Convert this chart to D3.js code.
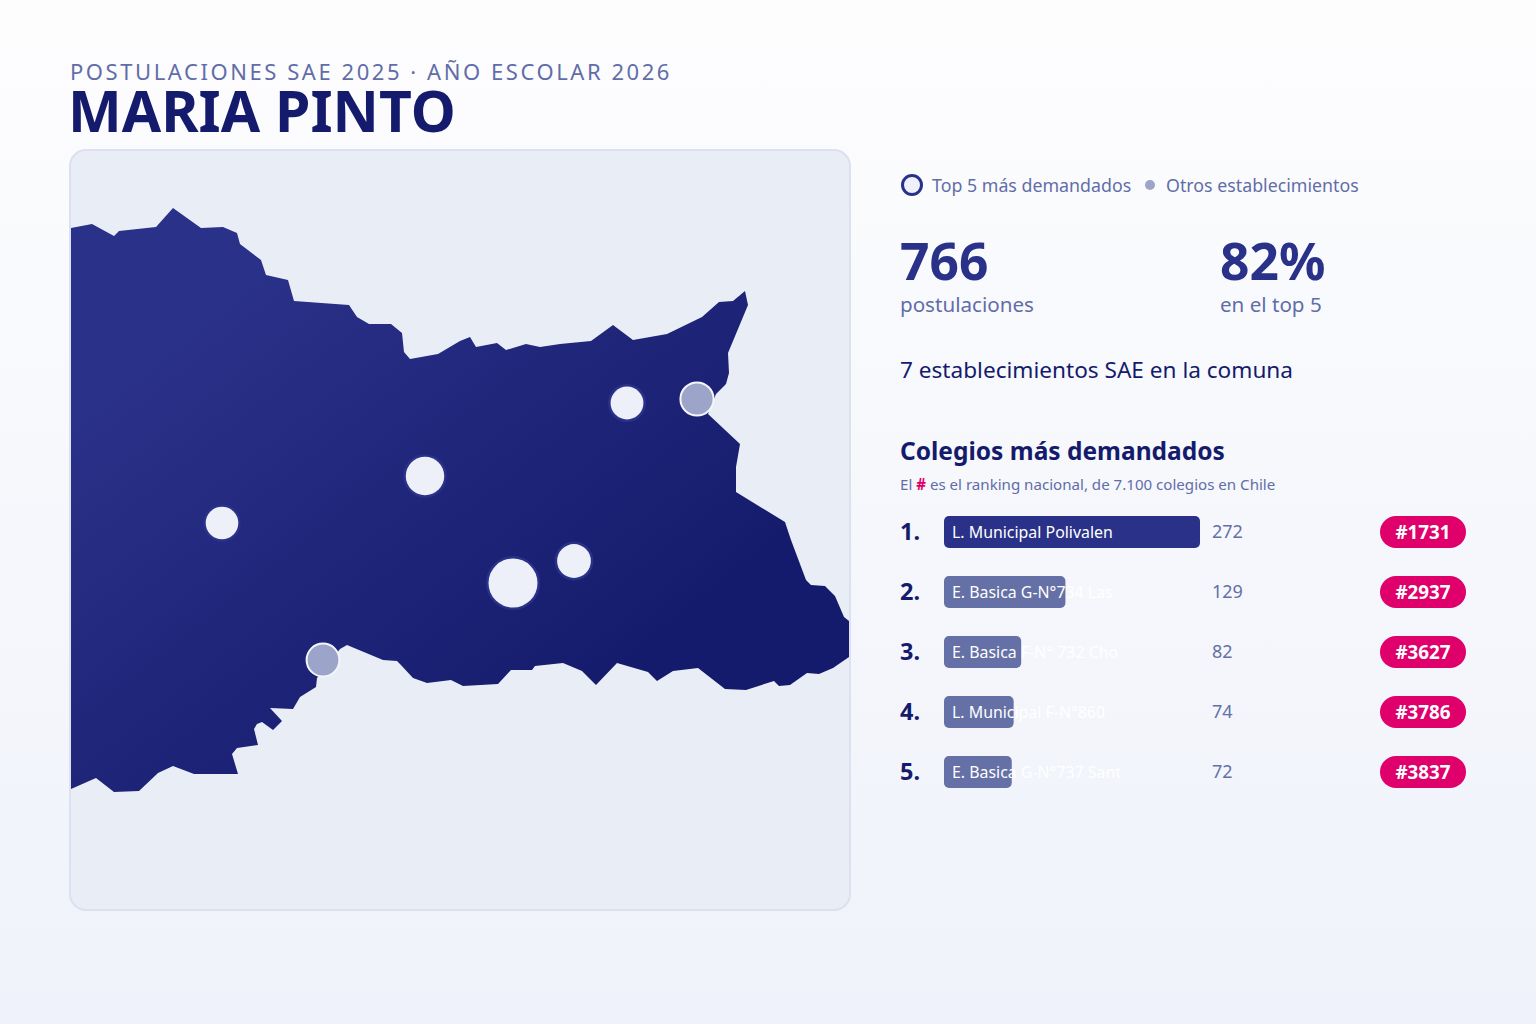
<!DOCTYPE html>
<html>
<head>
<meta charset="utf-8">
<script src="https://cdn.jsdelivr.net/npm/d3@7"></script>
<style>
	html, body { margin: 0; padding: 0; background: #f5f7fc; }
	svg { display: block; font-family: "Noto Sans", sans-serif; }
</style>
</head>
<body>
<div id="chart"></div>
<script>
// comuna outline, in map units
const outline = [
	[1,78],[22,74],[44,86],[49,81],[86,77],[103,58],[131,78],[153,77],[167,83],[170,94],
	[191,110],[196,125],[218,130],[224,151],[279,155],[287,167],[299,174],[321,174],[332,183],[334,202],
	[340,209],[368,204],[390,191],[400,187],[406,197],[427,193],[436,200],[456,194],[470,197],[490,194],
	[521,191],[543,175],[563,190],[597,184],[632,167],[649,152],[663,151],[675,141],[678,155],[658,203],
	[659,223],[656,234],[646,244],[638,264],[670,294],[666,317],[666,342],[715,372],[721,390],[736,430],
	[741,435],[755,436],[765,446],[774,467],[779,471],[779,507],[763,518],[749,524],[737,523],[720,535],
	[709,536],[704,531],[676,540],[655,539],[628,518],[603,521],[587,531],[578,522],[547,513],[526,535],
	[512,521],[493,513],[465,516],[462,520],[441,520],[428,534],[393,536],[381,530],[357,533],[343,528],
	[330,514],[327,511],[313,510],[277,495],[270,499],[247,528],[246,537],[230,547],[223,559],[200,558],
	[212,571],[203,580],[192,572],[187,574],[184,579],[188,595],[167,598],[162,604],[168,624],[124,624],
	[103,616],[88,623],[69,641],[44,642],[26,628],[1,639]
];

// ranking of the top 5
const ranks = [1, 2, 3, 4, 5];
const schools = [
	"L. Municipal Polivalen",
	"E. Basica G-N°734 Las",
	"E. Basica F-N° 732 Cho",
	"L. Municipal F-N°860",
	"E. Basica G-N°737 Sant"
];
const postulaciones = [272, 129, 82, 74, 72];
const nationalRank = ["#1731", "#2937", "#3627", "#3786", "#3837"];
const topX = [443, 355, 504, 557, 152];
const topY = [433, 326, 411, 253, 373];

// the two other schools
const otherX = [627, 253];
const otherY = [249, 510];
const otherValues = [70, 67];

const W = 1536, H = 1024;
const panel = {x: 70, y: 150, w: 780, h: 760};

const svg = d3.select("#chart").append("svg")
	.attr("width", W)
	.attr("height", H);

const defs = svg.append("defs");

const bg = defs.append("linearGradient").attr("id", "bg")
	.attr("x1", 0).attr("y1", 0).attr("x2", 0).attr("y2", 1);
bg.append("stop").attr("offset", "0%").attr("stop-color", "#fdfdfe");
bg.append("stop").attr("offset", "100%").attr("stop-color", "#eff2fa");

const mapFill = defs.append("linearGradient").attr("id", "mapFill")
	.attr("x1", "5%").attr("y1", "5%").attr("x2", "90%").attr("y2", "85%");
mapFill.append("stop").attr("offset", "15%").attr("stop-color", "#2a3188");
mapFill.append("stop").attr("offset", "85%").attr("stop-color", "#151b6c");

defs.append("clipPath").attr("id", "panelClip")
	.append("rect")
	.attr("x", panel.x).attr("y", panel.y)
	.attr("width", panel.w).attr("height", panel.h)
	.attr("rx", 16);

svg.append("rect")
	.attr("width", W).attr("height", H)
	.attr("fill", "url(#bg)");

//------------------------------------------------------------------------------
// header
svg.append("text")
	.attr("x", 70).attr("y", 80)
	.attr("font-size", 22)
	.attr("letter-spacing", 2.56)
	.attr("fill", "#616da8")
	.text("POSTULACIONES SAE 2025 · AÑO ESCOLAR 2026");

svg.append("text")
	.attr("x", 68).attr("y", 132)
	.attr("font-size", 57)
	.attr("font-weight", 700)
	.attr("fill", "#151b6c")
	.text("MARIA PINTO");

//------------------------------------------------------------------------------
// map
const x = d3.scaleLinear().domain([0, panel.w]).range([panel.x, panel.x + panel.w]);
const y = d3.scaleLinear().domain([0, panel.h]).range([panel.y, panel.y + panel.h]);
const r = d3.scaleSqrt().domain([67, 272]).range([16, 24.5]);

svg.append("rect")
	.attr("x", panel.x).attr("y", panel.y)
	.attr("width", panel.w).attr("height", panel.h)
	.attr("rx", 16)
	.attr("fill", "#e9edf6");

const mapLayer = svg.append("g").attr("clip-path", "url(#panelClip)");

const line = d3.line()
	.x(function(d) { return x(d[0]); })
	.y(function(d) { return y(d[1]); })
	.curve(d3.curveLinearClosed);

mapLayer.append("path")
	.datum(outline)
	.attr("d", line)
	.attr("fill", "url(#mapFill)");

svg.append("rect")
	.attr("x", panel.x).attr("y", panel.y)
	.attr("width", panel.w).attr("height", panel.h)
	.attr("rx", 16)
	.attr("fill", "none")
	.attr("stroke", "#dce0ef")
	.attr("stroke-width", 2);

// others first, top 5 above them
mapLayer.selectAll(".other")
	.data(otherValues)
	.enter()
	.append("circle")
	.attr("class", "other")
	.attr("cx", function(d, i) { return x(otherX[i]); })
	.attr("cy", function(d, i) { return y(otherY[i]); })
	.attr("r", function(d) { return r(d) + 0.4; })
	.attr("fill", "#9ca4ca")
	.attr("stroke", "#f4f6fb")
	.attr("stroke-width", 2);

mapLayer.selectAll(".top")
	.data(postulaciones)
	.enter()
	.append("circle")
	.attr("class", "top")
	.attr("cx", function(d, i) { return x(topX[i]); })
	.attr("cy", function(d, i) { return y(topY[i]); })
	.attr("r", function(d) { return r(d); })
	.attr("fill", "#edf0f8")
	.attr("stroke", "#2a3188")
	.attr("stroke-width", 5)
	.attr("paint-order", "stroke");

//------------------------------------------------------------------------------
// legend
svg.append("circle")
	.attr("cx", 912).attr("cy", 185).attr("r", 9.5)
	.attr("fill", "#eef1fa")
	.attr("stroke", "#2a3188")
	.attr("stroke-width", 3);

svg.append("text")
	.attr("x", 932).attr("y", 192)
	.attr("font-size", 17.8)
	.attr("fill", "#616da8")
	.text("Top 5 más demandados");

svg.append("circle")
	.attr("cx", 1150).attr("cy", 185).attr("r", 5)
	.attr("fill", "#9ca4ca");

svg.append("text")
	.attr("x", 1166).attr("y", 192)
	.attr("font-size", 17.8)
	.attr("fill", "#616da8")
	.text("Otros establecimientos");

//------------------------------------------------------------------------------
// headline numbers
const statValues = ["766", "82%"];
const statLabels = ["postulaciones", "en el top 5"];
const statX = [900, 1220];

svg.selectAll(".statValue")
	.data(statValues)
	.enter()
	.append("text")
	.attr("class", "statValue")
	.attr("x", function(d, i) { return statX[i]; })
	.attr("y", 280)
	.attr("font-size", 51.5)
	.attr("font-weight", 700)
	.attr("fill", "#2a3188")
	.text(function(d) { return d; });

svg.selectAll(".statLabel")
	.data(statLabels)
	.enter()
	.append("text")
	.attr("class", "statLabel")
	.attr("x", function(d, i) { return statX[i]; })
	.attr("y", 312)
	.attr("font-size", 20.6)
	.attr("fill", "#616da8")
	.text(function(d) { return d; });

svg.append("text")
	.attr("x", 900).attr("y", 378)
	.attr("font-size", 22.6)
	.attr("fill", "#151b6c")
	.text("7 establecimientos SAE en la comuna");

svg.append("text")
	.attr("x", 900).attr("y", 460)
	.attr("font-size", 24.5)
	.attr("font-weight", 700)
	.attr("fill", "#151b6c")
	.text("Colegios más demandados");

const note = svg.append("text")
	.attr("x", 900).attr("y", 490)
	.attr("font-size", 15.1)
	.attr("fill", "#616da8");
note.append("tspan").text("El ");
note.append("tspan").attr("font-weight", 700).attr("fill", "#e0006b").text("#");
note.append("tspan").text(" es el ranking nacional, de 7.100 colegios en Chile");

//------------------------------------------------------------------------------
// ranking rows
const rowY = d3.scaleBand().domain(ranks).range([502, 802]);
const barW = d3.scaleLinear().domain([0, 272]).range([0, 256]);
const barH = 32;

const rows = svg.selectAll(".row")
	.data(ranks)
	.enter()
	.append("g")
	.attr("class", "row")
	.attr("transform", function(d) {
		return "translate(0," + (rowY(d) + rowY.bandwidth() / 2) + ")";
	});

rows.append("text")
	.attr("x", 900).attr("y", 8)
	.attr("font-size", 23.5)
	.attr("font-weight", 700)
	.attr("fill", "#151b6c")
	.text(function(d) { return d + "."; });

rows.append("rect")
	.attr("x", 944).attr("y", -barH / 2)
	.attr("width", function(d, i) { return barW(postulaciones[i]); })
	.attr("height", barH)
	.attr("rx", 5)
	.attr("fill", function(d, i) { return i === 0 ? "#2a3188" : "#6470a6"; });

rows.append("text")
	.attr("x", 952).attr("y", 6)
	.attr("font-size", 15.9)
	.attr("fill", "#fff")
	.text(function(d, i) { return schools[i]; });

rows.append("text")
	.attr("x", 1212).attr("y", 6)
	.attr("font-size", 18)
	.attr("fill", "#6470a6")
	.text(function(d, i) { return postulaciones[i]; });

rows.append("rect")
	.attr("x", 1380).attr("y", -barH / 2)
	.attr("width", 86)
	.attr("height", barH)
	.attr("rx", 16)
	.attr("fill", "#e0006b");

rows.append("text")
	.attr("x", 1423).attr("y", 6.5)
	.attr("text-anchor", "middle")
	.attr("font-size", 18.8)
	.attr("font-weight", 700)
	.attr("fill", "#fff")
	.text(function(d, i) { return nationalRank[i]; });
</script>
</body>
</html>
